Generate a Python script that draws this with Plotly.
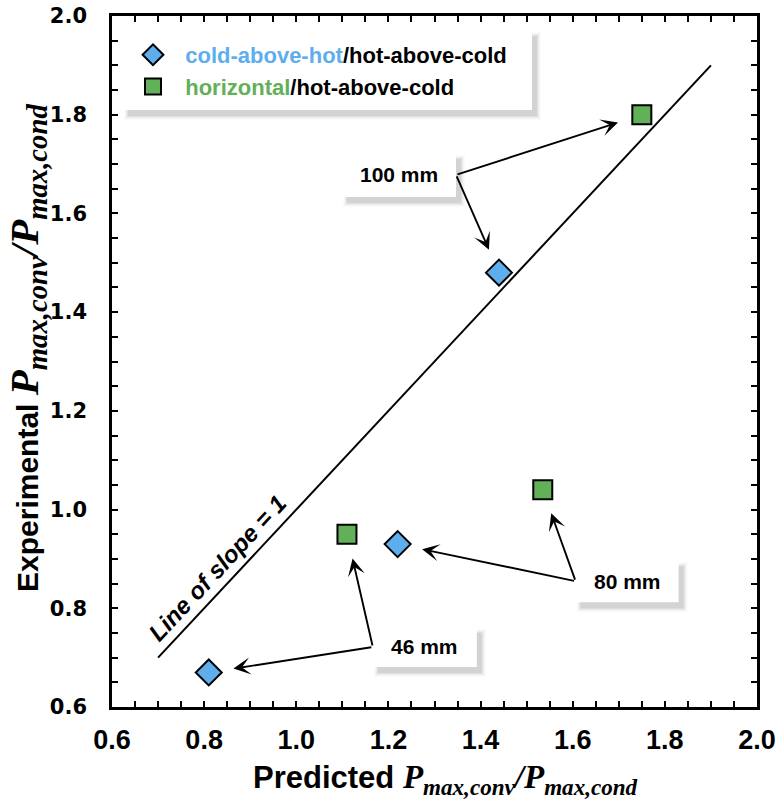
import plotly.graph_objects as go

# Predicted vs. experimental power ratio for two cell orientations
cah_pred = [0.81, 1.22, 1.44]
cah_exp = [0.67, 0.93, 1.48]
hor_pred = [1.11, 1.535, 1.75]
hor_exp = [0.95, 1.04, 1.80]

# reference line of slope 1
ref_x = [0.7, 1.9]
ref_y = [0.7, 1.9]

tick_vals = [0.6, 0.8, 1.0, 1.2, 1.4, 1.6, 1.8, 2.0]
tick_text = ["0.6", "0.8", "1.0", "1.2", "1.4", "1.6", "1.8", "2.0"]

# gap-size call-outs: label, box centre (data), box size (px), side the arrows leave from,
# and which points each call-out points to (series, index)
callouts = [
    ("100 mm", 1.223, 1.678, 114, 44, +1, [("h", 2), ("c", 2)]),
    ("80 mm", 1.718, 0.855, 103, 42, -1, [("h", 1), ("c", 1)]),
    ("46 mm", 1.279, 0.7216, 104, 40, -1, [("h", 0), ("c", 0)]),
]

W, H = 778, 806
M = dict(l=112, r=21, t=16, b=99)
X0, X1, Y0, Y1 = 0.6, 2.0, 0.6, 2.0
PW = W - M["l"] - M["r"]
PH = H - M["t"] - M["b"]
px_x = PW / (X1 - X0)
px_y = PH / (Y1 - Y0)

SANS = "Liberation Sans, Arial, sans-serif"
BLUE = "#5eaeee"
GREEN = "#62b057"
NBSP = "\u00a0"

fig = go.Figure()

fig.add_trace(go.Scatter(
    x=ref_x, y=ref_y, mode="lines", line=dict(color="black", width=2),
    showlegend=False, hoverinfo="skip"))

fig.add_trace(go.Scatter(
    x=cah_pred, y=cah_exp, mode="markers",
    name=NBSP * 2 + f"<span style='color:{BLUE}'>cold-above-hot</span>/hot-above-cold",
    marker=dict(symbol="diamond", size=20, color=BLUE,
                line=dict(color="black", width=2))))

fig.add_trace(go.Scatter(
    x=hor_pred, y=hor_exp, mode="markers",
    name=NBSP * 2 + f"<span style='color:{GREEN}'>horizontal</span>/hot-above-cold",
    marker=dict(symbol="square", size=19, color=GREEN,
                line=dict(color="black", width=2))))

shapes = []
annotations = []


def shadow_and_box(cx, cy, w, h):
    """Soft drop shadow (stacked translucent rects) under a white box."""
    out = []
    for grow, op in [(4, 0.025), (3, 0.035), (2, 0.05), (1, 0.07), (0, 0.09)]:
        out.append(dict(
            type="rect", xref="x", yref="y",
            xsizemode="pixel", ysizemode="pixel", xanchor=cx, yanchor=cy,
            x0=-w / 2 + 5 - grow, x1=w / 2 + 5 + grow,
            y0=-h / 2 - 6 - grow, y1=h / 2 - 6 + grow,
            fillcolor=f"rgba(80,80,80,{op})", line=dict(width=0), layer="above"))
    out.append(dict(
        type="rect", xref="x", yref="y",
        xsizemode="pixel", ysizemode="pixel", xanchor=cx, yanchor=cy,
        x0=-w / 2, x1=w / 2, y0=-h / 2, y1=h / 2,
        fillcolor="white", line=dict(width=0), layer="above"))
    return out


# legend panel
leg_cx = X0 + (327.5 - M["l"]) / px_x
leg_cy = Y1 - (70 - M["t"]) / px_y
shapes += shadow_and_box(leg_cx, leg_cy, 409, 80)

series = {"c": (cah_pred, cah_exp), "h": (hor_pred, hor_exp)}
for label, cx, cy, w, h, side, targets in callouts:
    shapes += shadow_and_box(cx, cy, w, h)
    annotations.append(dict(
        x=cx, y=cy, xref="x", yref="y", text=f"<b>{label}</b>", showarrow=False,
        font=dict(family=SANS, size=21, color="black")))
    tail_x = cx + side * (w / 2) / px_x
    for s, i in targets:
        xs, ys = series[s]
        annotations.append(dict(
            x=xs[i], y=ys[i], xref="x", yref="y", axref="x", ayref="y",
            ax=tail_x, ay=cy, text="", showarrow=True, arrowhead=3,
            arrowsize=1.5, arrowwidth=1.9, arrowcolor="black", standoff=25))

# label along the reference line
annotations.append(dict(
    x=0.830, y=0.882, xref="x", yref="y", text="<b><i>Line of slope = 1</i></b>",
    showarrow=False, textangle=-47, font=dict(family=SANS, size=24, color="black")))

# axis titles
ptxt = ("<span style=\"font-family:'Liberation Serif','Times New Roman',serif;font-size:{s}px\">"
        "<b><i>P</i></b><sub><b><i>max,conv</i></b></sub><b><i>/P</i></b>"
        "<sub><b><i>max,cond</i></b></sub></span>")
annotations.append(dict(
    x=(445 - M["l"]) / PW, y=((H - M["b"]) - 780) / PH,
    xref="paper", yref="paper", xanchor="center", yanchor="middle", showarrow=False,
    text="<b>Predicted </b>" + ptxt.format(s=33),
    font=dict(family=SANS, size=31, color="black")))
annotations.append(dict(
    x=(27 - M["l"]) / PW, y=((H - M["b"]) - 348) / PH,
    xref="paper", yref="paper", xanchor="center", yanchor="middle", showarrow=False,
    textangle=-90,
    text="<b>Experimental </b>" + ptxt.format(s=41),
    font=dict(family=SANS, size=30, color="black")))

axis_common = dict(
    tickvals=tick_vals, ticktext=tick_text, automargin=False,
    showline=True, linecolor="black", linewidth=2.5, mirror="allticks",
    ticks="inside", ticklen=6, tickwidth=2, tickcolor="black",
    minor=dict(dtick=0.05, ticks="inside", ticklen=6, tickwidth=2, tickcolor="black"),
    showgrid=False, zeroline=False,
)

fig.update_layout(
    width=W, height=H, margin=M,
    paper_bgcolor="white", plot_bgcolor="white",
    xaxis=dict(**axis_common, range=[X0, X1], ticklabelstandoff=7,
               tickfont=dict(family=SANS, size=27, color="black", weight="bold")),
    yaxis=dict(**axis_common, range=[Y0, Y1], ticklabelstandoff=18,
               tickfont=dict(family="DejaVu Sans, sans-serif", size=21, color="black",
                             weight="bold")),
    legend=dict(x=(133 - M["l"]) / PW,
                y=((H - M["b"]) - 34) / PH,
                xanchor="left", yanchor="top", bgcolor="rgba(0,0,0,0)",
                font=dict(family=SANS, size=22, color="black", weight="bold"),
                itemsizing="trace"),
    shapes=shapes, annotations=annotations,
)

fig.write_html("out.html")
